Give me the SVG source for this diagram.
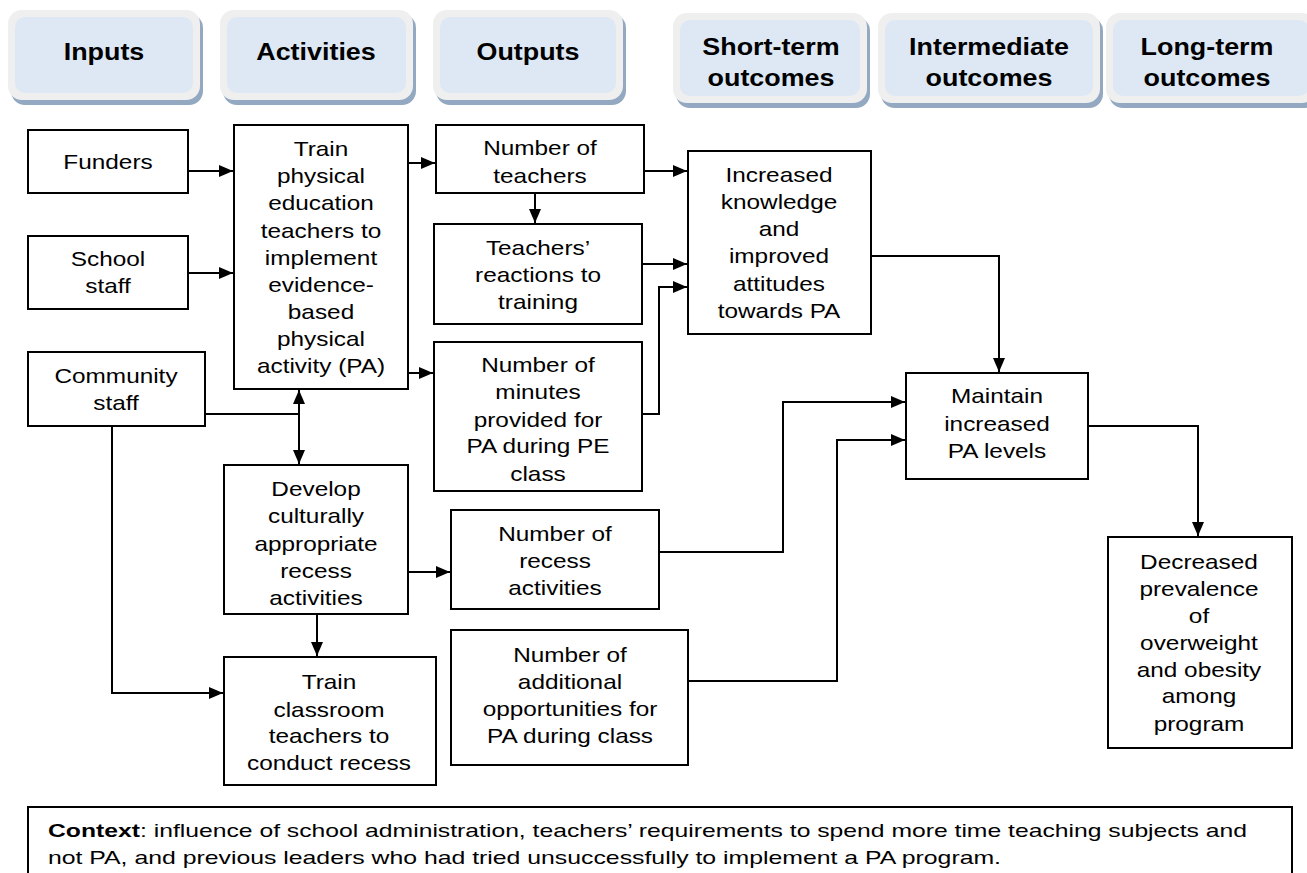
<svg xmlns="http://www.w3.org/2000/svg" width="1307" height="873" viewBox="0 0 1307 873">
<style>
.bg{fill:#ffffff}
.box{fill:#ffffff;stroke:#000;stroke-width:2}
.t{font-family:"Liberation Sans",Arial,sans-serif;font-size:21px;text-anchor:middle;fill:#000}
.h{font-family:"Liberation Sans",Arial,sans-serif;font-size:24px;font-weight:bold;text-anchor:middle;fill:#000}
.c{font-family:"Liberation Sans",Arial,sans-serif;font-size:19px;fill:#000}
.sh{fill:#93a9c1}
.po{fill:#efefef}
.pi{fill:#dde8f4}
.ln{fill:none;stroke:#000;stroke-width:2}
</style>
<defs>
<marker id="ah" markerUnits="userSpaceOnUse" markerWidth="15" markerHeight="13" refX="14" refY="6" orient="auto">
<path d="M0,0 L14,6 L0,12 z" fill="#000"/>
</marker>
</defs>
<rect class="bg" x="0" y="0" width="1307" height="873"/>

<g id="hdr-inputs">
<rect class="sh" x="11" y="14" width="192" height="91" rx="14"/>
<rect class="po" x="8" y="10" width="192" height="90" rx="14"/>
<rect class="pi" x="15" y="17" width="178" height="76" rx="10"/>
<g transform="translate(104 0) scale(1.12 1)"><text class="h" x="0" y="60">Inputs</text></g>
</g>
<g id="hdr-activities">
<rect class="sh" x="223" y="14" width="193" height="91" rx="14"/>
<rect class="po" x="220" y="10" width="193" height="90" rx="14"/>
<rect class="pi" x="227" y="17" width="179" height="76" rx="10"/>
<g transform="translate(316 0) scale(1.12 1)"><text class="h" x="0" y="60">Activities</text></g>
</g>
<g id="hdr-outputs">
<rect class="sh" x="436" y="14" width="190" height="91" rx="14"/>
<rect class="po" x="433" y="10" width="190" height="90" rx="14"/>
<rect class="pi" x="440" y="17" width="176" height="76" rx="10"/>
<g transform="translate(528 0) scale(1.12 1)"><text class="h" x="0" y="60">Outputs</text></g>
</g>
<g id="hdr-short">
<rect class="sh" x="676" y="17" width="194" height="91" rx="14"/>
<rect class="po" x="673" y="13" width="194" height="90" rx="14"/>
<rect class="pi" x="680" y="20" width="180" height="76" rx="10"/>
<g transform="translate(771 0) scale(1.12 1)"><text class="h" x="0" y="55">Short-term</text><text class="h" x="0" y="86">outcomes</text></g>
</g>
<g id="hdr-intermediate">
<rect class="sh" x="881" y="17" width="222" height="91" rx="14"/>
<rect class="po" x="878" y="13" width="222" height="90" rx="14"/>
<rect class="pi" x="885" y="20" width="208" height="76" rx="10"/>
<g transform="translate(989 0) scale(1.12 1)"><text class="h" x="0" y="55">Intermediate</text><text class="h" x="0" y="86">outcomes</text></g>
</g>
<g id="hdr-long">
<rect class="sh" x="1109" y="17" width="210" height="91" rx="14"/>
<rect class="po" x="1106" y="13" width="210" height="90" rx="14"/>
<rect class="pi" x="1113" y="20" width="196" height="76" rx="10"/>
<g transform="translate(1207 0) scale(1.12 1)"><text class="h" x="0" y="55">Long-term</text><text class="h" x="0" y="86">outcomes</text></g>
</g>

<g id="connectors">
<path class="ln" d="M188,171 H233" marker-end="url(#ah)"/>
<path class="ln" d="M188,273 H233" marker-end="url(#ah)"/>
<path class="ln" d="M408,163 H435" marker-end="url(#ah)"/>
<path class="ln" d="M408,373 H433" marker-end="url(#ah)"/>
<path class="ln" d="M205,414 H299 V390" marker-end="url(#ah)"/>
<path class="ln" d="M299,414 V464" marker-end="url(#ah)"/>
<path class="ln" d="M112,426 V693 H223" marker-end="url(#ah)"/>
<path class="ln" d="M317,614 V656" marker-end="url(#ah)"/>
<path class="ln" d="M408,572 H450" marker-end="url(#ah)"/>
<path class="ln" d="M535,193 V223" marker-end="url(#ah)"/>
<path class="ln" d="M644,171 H687" marker-end="url(#ah)"/>
<path class="ln" d="M642,264 H687" marker-end="url(#ah)"/>
<path class="ln" d="M642,414 H659 V287 H687" marker-end="url(#ah)"/>
<path class="ln" d="M871,256 H999 V372" marker-end="url(#ah)"/>
<path class="ln" d="M659,552 H783 V402 H905" marker-end="url(#ah)"/>
<path class="ln" d="M688,681 H837 V440 H905" marker-end="url(#ah)"/>
<path class="ln" d="M1088,426 H1198 V536" marker-end="url(#ah)"/>
</g>

<g id="funders">
<rect class="box" x="28" y="130" width="160" height="63"/>
<g transform="translate(108 0) scale(1.16 1)"><text class="t" x="0" y="169">Funders</text></g>
</g>
<g id="school-staff">
<rect class="box" x="28" y="236" width="160" height="73"/>
<g transform="translate(108 0) scale(1.16 1)"><text class="t" x="0" y="266">School</text><text class="t" x="0" y="293">staff</text></g>
</g>
<g id="community-staff">
<rect class="box" x="28" y="352" width="177" height="74"/>
<g transform="translate(116 0) scale(1.16 1)"><text class="t" x="0" y="383">Community</text><text class="t" x="0" y="410">staff</text></g>
</g>
<g id="train-pe">
<rect class="box" x="234" y="125" width="174" height="264"/>
<g transform="translate(321 0) scale(1.16 1)">
<text class="t" x="0" y="156">Train</text>
<text class="t" x="0" y="183">physical</text>
<text class="t" x="0" y="210">education</text>
<text class="t" x="0" y="238">teachers to</text>
<text class="t" x="0" y="265">implement</text>
<text class="t" x="0" y="292">evidence-</text>
<text class="t" x="0" y="319">based</text>
<text class="t" x="0" y="346">physical</text>
<text class="t" x="0" y="373">activity (PA)</text>
</g>
</g>
<g id="num-teachers">
<rect class="box" x="436" y="125" width="208" height="68"/>
<g transform="translate(540 0) scale(1.16 1)"><text class="t" x="0" y="155">Number of</text><text class="t" x="0" y="183">teachers</text></g>
</g>
<g id="reactions">
<rect class="box" x="434" y="224" width="208" height="100"/>
<g transform="translate(538 0) scale(1.16 1)"><text class="t" x="0" y="255">Teachers’</text><text class="t" x="0" y="282">reactions to</text><text class="t" x="0" y="309">training</text></g>
</g>
<g id="num-minutes">
<rect class="box" x="434" y="342" width="208" height="149"/>
<g transform="translate(538 0) scale(1.16 1)">
<text class="t" x="0" y="372">Number of</text>
<text class="t" x="0" y="399">minutes</text>
<text class="t" x="0" y="427">provided for</text>
<text class="t" x="0" y="453">PA during PE</text>
<text class="t" x="0" y="481">class</text>
</g>
</g>
<g id="increased-knowledge">
<rect class="box" x="688" y="151" width="183" height="183"/>
<g transform="translate(779 0) scale(1.16 1)">
<text class="t" x="0" y="182">Increased</text>
<text class="t" x="0" y="209">knowledge</text>
<text class="t" x="0" y="236">and</text>
<text class="t" x="0" y="263">improved</text>
<text class="t" x="0" y="291">attitudes</text>
<text class="t" x="0" y="318">towards PA</text>
</g>
</g>
<g id="develop">
<rect class="box" x="224" y="465" width="184" height="149"/>
<g transform="translate(316 0) scale(1.16 1)">
<text class="t" x="0" y="496">Develop</text>
<text class="t" x="0" y="523">culturally</text>
<text class="t" x="0" y="551">appropriate</text>
<text class="t" x="0" y="578">recess</text>
<text class="t" x="0" y="605">activities</text>
</g>
</g>
<g id="train-classroom">
<rect class="box" x="224" y="657" width="212" height="128"/>
<g transform="translate(329 0) scale(1.16 1)">
<text class="t" x="0" y="689">Train</text>
<text class="t" x="0" y="717">classroom</text>
<text class="t" x="0" y="743">teachers to</text>
<text class="t" x="0" y="770">conduct recess</text>
</g>
</g>
<g id="num-recess">
<rect class="box" x="451" y="510" width="208" height="99"/>
<g transform="translate(555 0) scale(1.16 1)"><text class="t" x="0" y="541">Number of</text><text class="t" x="0" y="568">recess</text><text class="t" x="0" y="595">activities</text></g>
</g>
<g id="num-additional">
<rect class="box" x="451" y="630" width="237" height="135"/>
<g transform="translate(570 0) scale(1.16 1)">
<text class="t" x="0" y="662">Number of</text>
<text class="t" x="0" y="689">additional</text>
<text class="t" x="0" y="716">opportunities for</text>
<text class="t" x="0" y="743">PA during class</text>
</g>
</g>
<g id="maintain">
<rect class="box" x="906" y="373" width="182" height="106"/>
<g transform="translate(997 0) scale(1.16 1)"><text class="t" x="0" y="403">Maintain</text><text class="t" x="0" y="431">increased</text><text class="t" x="0" y="458">PA levels</text></g>
</g>
<g id="decreased">
<rect class="box" x="1108" y="537" width="184" height="211"/>
<g transform="translate(1199 0) scale(1.16 1)">
<text class="t" x="0" y="569">Decreased</text>
<text class="t" x="0" y="596">prevalence</text>
<text class="t" x="0" y="623">of</text>
<text class="t" x="0" y="650">overweight</text>
<text class="t" x="0" y="677">and obesity</text>
<text class="t" x="0" y="703">among</text>
<text class="t" x="0" y="731">program</text>
</g>
</g>
<g id="context">
<rect class="box" x="28" y="807" width="1264" height="80"/>
<text class="c" x="48" y="837" textLength="1199" lengthAdjust="spacingAndGlyphs"><tspan font-weight="bold">Context</tspan>: influence of school administration, teachers’ requirements to spend more time teaching subjects and</text>
<text class="c" x="48" y="864" textLength="953" lengthAdjust="spacingAndGlyphs">not PA, and previous leaders who had tried unsuccessfully to implement a PA program.</text>
</g>
</svg>
